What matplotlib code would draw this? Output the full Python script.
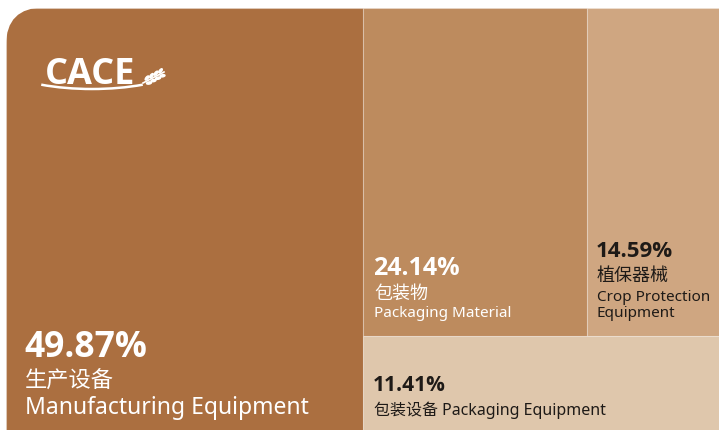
"""
    Treemap of exhibitor share by category (CACE)
"""

import matplotlib
matplotlib.use('Agg')
import matplotlib.pyplot as plt
from matplotlib.patches import Rectangle, FancyBboxPatch, Ellipse, Arc

plt.rcParams['font.family'] = ['Noto Sans', 'Noto Sans CJK SC', 'DejaVu Sans']
BOLD = ['Open Sans', 'DejaVu Sans']

# data
shares = [49.87, 24.14, 14.59, 11.41]
names_cn = ['生产设备', '包装物', '植保器械', '包装设备']
names_en = ['Manufacturing Equipment', 'Packaging Material',
            'Crop Protection\nEquipment', 'Packaging Equipment']
colors = ['#AB6F40', '#BD8B5E', '#CFA681', '#DFC7AC']
txt_colors = ['white', 'white', '#1E1A17', '#1E1A17']

# drawing region in pixel coords (bottom/right run past the picture)
X0, Y0, X1, Y1 = 6, 8.5, 722, 434

fig = plt.figure(figsize=(7.19, 4.31), dpi=100)
ax = fig.add_axes([0, 0, 1, 1])
ax.set_xlim(0, 719)
ax.set_ylim(431, 0)
ax.axis('off')

# simple slice-and-dice layout
total = sum(shares)
w0 = (X1 - X0) * shares[0] / total
xm = X0 + w0
rest = total - shares[0]
h_top = (Y1 - Y0) * (shares[1] + shares[2]) / rest
yt = Y0 + h_top
w1 = (X1 - xm) * shares[1] / (shares[1] + shares[2])
rects = [
    (X0, Y0, w0, Y1 - Y0),
    (xm, Y0, w1, h_top),
    (xm + w1, Y0, X1 - xm - w1, h_top),
    (xm, yt, X1 - xm, Y1 - yt),
]

# rounded top-left corner
clip = FancyBboxPatch((X0, Y0), 800, 500, boxstyle='round,pad=0,rounding_size=38',
                      transform=ax.transData, facecolor='none', edgecolor='none')
ax.add_patch(clip)

for (x, y, w, h), c in zip(rects, colors):
    r = Rectangle((x, y), w, h, facecolor=c, edgecolor=(1, 1, 1, 0.25), lw=0.8)
    ax.add_patch(r)
    r.set_clip_path(clip)

# labels
x, y, w, h = rects[0]
ax.text(x + 18, y + h - 77, '%.2f%%' % shares[0], color=txt_colors[0],
        fontsize=25.5, fontweight='bold', family=BOLD, va='baseline')
ax.text(x + 19, y + h - 46, names_cn[0], color=txt_colors[0], fontsize=16, va='baseline')
ax.text(x + 19, y + h - 20, names_en[0], color=txt_colors[0], fontsize=16.5, va='baseline')

x, y, w, h = rects[1]
ax.text(x + 10, y + h - 62, '%.2f%%' % shares[1], color=txt_colors[1],
        fontsize=18, fontweight='bold', family=BOLD, va='baseline')
ax.text(x + 11, y + h - 38, names_cn[1], color=txt_colors[1], fontsize=13, va='baseline')
ax.text(x + 11, y + h - 20, names_en[1], color=txt_colors[1], fontsize=11, va='baseline')

x, y, w, h = rects[2]
ax.text(x + 9, y + h - 80, '%.2f%%' % shares[2], color=txt_colors[2],
        fontsize=16, fontweight='bold', family=BOLD, va='baseline')
ax.text(x + 10, y + h - 56, names_cn[2], color=txt_colors[2], fontsize=13, va='baseline')
ax.text(x + 10, y + h - 20, names_en[2], color=txt_colors[2], fontsize=11,
        va='baseline', linespacing=1.15)

x, y, w, h = rects[3]
ax.text(x + 10, y + 54, '%.2f%%' % shares[3], color=txt_colors[3],
        fontsize=15, fontweight='bold', family=BOLD, va='baseline')
ax.text(x + 11, y + 78, names_cn[3] + ' ' + names_en[3], color=txt_colors[3],
        fontsize=11.5, va='baseline')

# logo
ax.text(45, 84, 'CACE', color='white', fontsize=26, fontweight='bold',
        family=BOLD, va='baseline')
ax.add_patch(Arc((92, 62), 190, 56, theta1=25, theta2=155, color='white', lw=1.8))
ax.plot([143, 164], [84, 73], color='white', lw=1.2)
for i in range(4):
    ax.add_patch(Ellipse((147 + i * 4.5, 79 - i * 2.4), 5, 2.2, angle=-50,
                         color='white'))
    ax.add_patch(Ellipse((149 + i * 4.5, 84 - i * 2.4), 5, 2.2, angle=-10,
                         color='white'))

fig.savefig('out.png', dpi=100)
